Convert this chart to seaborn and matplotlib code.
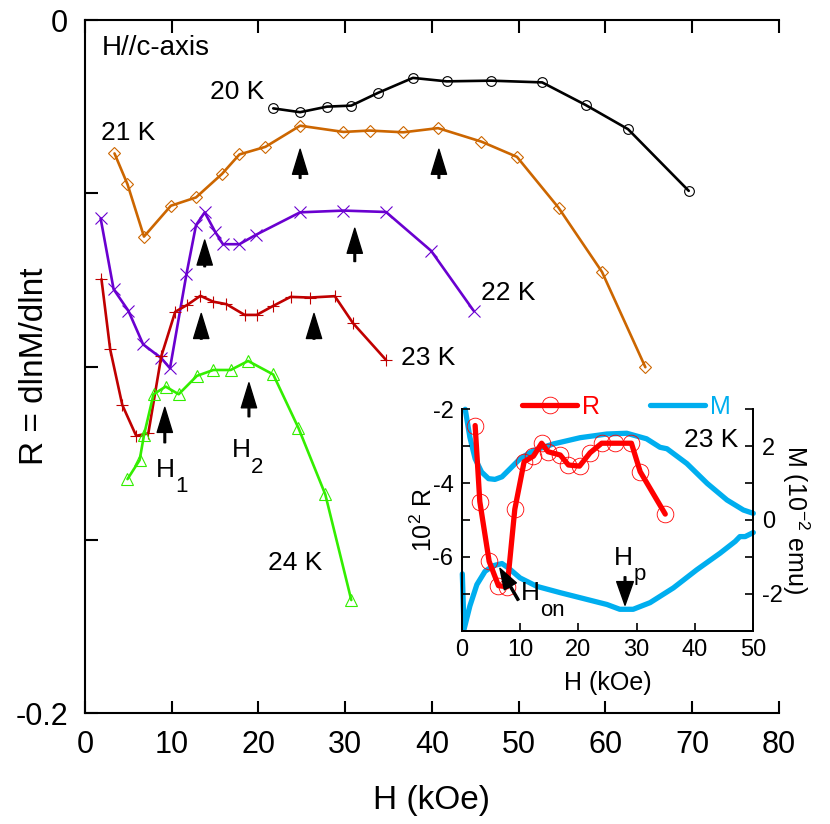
import numpy as np
import pandas as pd
import matplotlib
matplotlib.use("Agg")
import matplotlib.pyplot as plt
import seaborn as sns

# =====================================
# Data
# =====================================
h20 = [21.7, 24.8, 27.9, 30.7, 33.8, 37.8, 41.7, 46.8, 52.7, 57.7, 62.6, 69.6]
r20 = [-0.0255, -0.0266, -0.0250, -0.0247, -0.0210, -0.0167, -0.0177, -0.0175,
       -0.0180, -0.0245, -0.0315, -0.0493]

h21 = [3.4, 4.9, 6.8, 9.9, 12.8, 15.8, 17.8, 20.8, 24.8, 29.8, 32.8, 36.7,
       40.7, 45.7, 49.8, 54.6, 59.6, 64.6]
r21 = [-0.0385, -0.0474, -0.0625, -0.0536, -0.0512, -0.0444, -0.0388, -0.0366,
       -0.0305, -0.0323, -0.0319, -0.0324, -0.0312, -0.0351, -0.0395, -0.0542,
       -0.0727, -0.1002]

h22 = [1.8, 3.3, 5.0, 6.7, 8.8, 9.8, 11.7, 12.8, 13.8, 15.0, 15.9, 17.8, 19.7,
       24.8, 29.8, 34.7, 39.9, 44.8]
r22 = [-0.0572, -0.0777, -0.0839, -0.0936, -0.0976, -0.1005, -0.0733, -0.0592,
       -0.0555, -0.0611, -0.0647, -0.0647, -0.0620, -0.0555, -0.0550, -0.0554,
       -0.0666, -0.0839]

h23 = [1.9, 2.9, 4.3, 5.9, 7.3, 8.8, 10.4, 11.8, 13.3, 14.8, 16.3, 18.4, 19.8,
       21.7, 23.7, 25.9, 28.8, 30.9, 34.7]
r23 = [-0.0748, -0.0950, -0.1111, -0.1200, -0.1193, -0.0970, -0.0842, -0.0822,
       -0.0796, -0.0813, -0.0820, -0.0851, -0.0851, -0.0825, -0.0799, -0.0801,
       -0.0797, -0.0875, -0.0981]

h24 = [4.9, 6.3, 6.8, 7.9, 9.3, 10.8, 12.9, 14.8, 16.8, 18.8, 21.7, 24.6, 27.7, 30.7]
r24 = [-0.1325, -0.1270, -0.1198, -0.1080, -0.1058, -0.1080, -0.1027, -0.1010,
       -0.1010, -0.0984, -0.1023, -0.1177, -0.1369, -0.1674]

# arrows: H position, tip and tail in R
arrow_h = [24.8, 40.8, 13.8, 31.1, 13.4, 26.4, 9.2, 18.9]
arrow_tip = [-0.0373, -0.0373, -0.0635, -0.0601, -0.0847, -0.0847, -0.1118, -0.1047]
arrow_tail = [-0.0457, -0.0457, -0.0712, -0.0697, -0.0921, -0.0921, -0.1220, -0.1145]

# inset: R at 23 K (10^2 R)
inset_h = [2.3, 3.1, 4.7, 6.3, 7.8, 9.1, 10.7, 12.3, 13.7, 14.8, 16.9, 18.3,
           20.2, 22.0, 24.0, 26.3, 29.1, 30.6, 34.9]
inset_r = [-2.44, -4.50, -6.12, -6.78, -6.81, -4.71, -3.42, -3.27, -2.92, -3.15,
           -3.24, -3.51, -3.54, -3.18, -2.92, -2.92, -2.92, -3.69, -4.84]

# inset: M loop (10^-2 emu)
m_up_h = [0.6, 1.4, 2.3, 3.4, 4.6, 5.7, 6.9, 8.3, 10.0, 12.3, 15.7, 20.3, 24.9,
          28.3, 31.7, 34.0, 35.2, 38.6, 42.1, 45.5, 48.3, 50.0]
m_up = [3.0, 2.24, 1.66, 1.30, 1.12, 1.10, 1.17, 1.39, 1.66, 1.88, 2.06, 2.23,
        2.33, 2.35, 2.20, 1.97, 1.93, 1.53, 0.99, 0.54, 0.27, 0.18]
m_dn_h = [0.1, 0.1, 0.4, 1.4, 2.6, 4.0, 5.4, 6.9, 8.0, 10.0, 12.9, 16.9, 21.4,
          24.9, 27.1, 29.4, 32.3, 36.3, 40.3, 44.3, 46.9, 47.7, 48.6, 50.0]
m_dn = [0.05, -2.97, -2.96, -2.33, -1.75, -1.39, -1.24, -1.18, -1.30, -1.57,
        -1.80, -1.97, -2.15, -2.29, -2.42, -2.42, -2.24, -1.84, -1.35, -0.90,
        -0.58, -0.45, -0.45, -0.34]

# =====================================
# Style
# =====================================
sns.set_theme(style="ticks", rc={
    "axes.edgecolor": "black",
    "xtick.color": "black",
    "ytick.color": "black",
    "text.color": "black",
    "axes.labelcolor": "black",
})
plt.rcParams["font.family"] = ["Liberation Sans", "DejaVu Sans"]
plt.rcParams["mathtext.fontset"] = "custom"
plt.rcParams["mathtext.rm"] = "Liberation Sans"
plt.rcParams["mathtext.it"] = "Liberation Sans:italic"
plt.rcParams["mathtext.default"] = "regular"

fig = plt.figure(figsize=(8.3, 8.24), dpi=100)


def sub_label(axis, x, y, main, sub, drop=11, size=19, sub_size=16, dx=14):
    # letter plus a large, low subscript (like the original figure)
    axis.text(x, y, main, fontsize=size, va="baseline")
    axis.annotate(sub, xy=(x, y), xytext=(dx, -drop), textcoords="offset points",
                  fontsize=sub_size, va="baseline")


def arrow(axis, x0, y0, x1, y1, hw=11, hl=17, w=1.2):
    axis.annotate("", xy=(x1, y1), xytext=(x0, y0),
                  arrowprops=dict(facecolor="black", edgecolor="black",
                                  width=w, headwidth=hw, headlength=hl, shrink=0))


# =====================================
# Main panel
# =====================================
ax = fig.add_axes([0.1024, 0.1347, 0.8361, 0.8410])

curves = [
    (h20, r20, "black", "o", 7),
    (h21, r21, "#CC6600", "D", 6),
    (h22, r22, "#6A00D0", "x", 8),
    (h23, r23, "#C00000", "+", 9),
    (h24, r24, "#33EE00", "^", 8),
]
for hx, ry, col, mk, ms in curves:
    sns.lineplot(x=hx, y=ry, ax=ax, sort=False, color=col, linewidth=1.9,
                 marker=mk, markersize=ms, markerfacecolor="none",
                 markeredgecolor=col, markeredgewidth=0.8)

for hx, tip, tail in zip(arrow_h, arrow_tip, arrow_tail):
    arrow(ax, hx, tail, hx, tip, hw=11, hl=18)

ax.set_xlim(0, 80)
ax.set_ylim(-0.2, 0)
ax.set_xticks(np.arange(0, 81, 10))
ax.set_yticks([0, -0.05, -0.1, -0.15, -0.2])
ax.set_yticklabels(["0", "", "", "", "-0.2"])
ax.spines["right"].set_visible(False)
for s in ["left", "bottom", "top"]:
    ax.spines[s].set_linewidth(1.5)
ax.tick_params(direction="in", length=9, width=1.5, top=True, right=False,
               labelsize=22, pad=12)
ax.set_xlabel("H (kOe)", fontsize=24, labelpad=18)
ax.set_ylabel("R = dlnM/dlnt", fontsize=24)
ax.yaxis.set_label_coords(-0.05, 0.5)

ax.text(1.9, -0.0082, "H//c-axis", fontsize=20, va="center")
ax.text(14.4, -0.0207, "20 K", fontsize=19, va="center")
ax.text(1.9, -0.0327, "21 K", fontsize=19, va="center")
ax.text(45.6, -0.0789, "22 K", fontsize=19, va="center")
ax.text(36.4, -0.0976, "23 K", fontsize=19, va="center")
ax.text(21.1, -0.1568, "24 K", fontsize=19, va="center")
sub_label(ax, 8.2, -0.1319, "H", "1", drop=11)
sub_label(ax, 16.9, -0.1260, "H", "2", drop=12)

# =====================================
# Inset: R and M at 23 K
# =====================================
ax_in = fig.add_axes([0.5563, 0.2346, 0.3513, 0.2687])
ax_m = ax_in.twinx()

sns.lineplot(x=m_up_h, y=m_up, ax=ax_m, sort=False, color="#00AEEF",
             linewidth=3.8, clip_on=False)
sns.lineplot(x=m_dn_h, y=m_dn, ax=ax_m, sort=False, color="#00AEEF",
             linewidth=3.8, clip_on=False)
line_m = ax_m.lines[0]

sns.lineplot(x=inset_h, y=inset_r, ax=ax_in, sort=False, color="#FF0000",
             linewidth=3.8, marker="o", markersize=12, markerfacecolor="none",
             markeredgecolor="#FF0000", markeredgewidth=0.6)
line_r = ax_in.lines[0]

ax_in.set_zorder(ax_m.get_zorder() + 1)
ax_in.patch.set_visible(False)

ax_in.set_xlim(0, 50)
ax_in.set_ylim(-8, -2)
ax_m.set_ylim(-3, 3)
ax_in.set_xticks([0, 10, 20, 30, 40, 50])
ax_in.set_yticks(np.arange(-8, -1, 1))
ax_in.set_yticklabels(["" if v % 2 or v == -8 else str(v) for v in range(-8, -1)])
ax_m.set_yticks(np.arange(-3, 4, 1))
ax_m.set_yticklabels([str(v) if v in (-2, 0, 2) else "" for v in range(-3, 4)])
for a in (ax_in, ax_m):
    a.spines["top"].set_visible(False)
    for s in ["left", "bottom", "right"]:
        a.spines[s].set_linewidth(1.3)
ax_in.tick_params(direction="in", length=6, width=1.2, labelsize=17, pad=6)
ax_m.tick_params(direction="in", length=6, width=1.2, labelsize=17, pad=6)
ax_in.set_xlabel("H (kOe)", fontsize=18, labelpad=7)
ax_in.set_ylabel("10$^2$ R", fontsize=18)
ax_in.yaxis.set_label_coords(-0.085, 0.5)
ax_m.set_ylabel("M (10$^{-2}$ emu)", fontsize=18, rotation=270, labelpad=21)

leg = ax_m.legend(handles=[line_r, line_m], labels=["R", "M"], loc="center",
                  bbox_to_anchor=(0.565, 1.012), ncol=2, frameon=False,
                  fontsize=18, handlelength=2.2, columnspacing=2.0,
                  handletextpad=0.2, borderaxespad=0)
for txt, col in zip(leg.get_texts(), ["#FF0000", "#00AEEF"]):
    txt.set_color(col)

ax_in.text(47.4, -2.83, "23 K", fontsize=19, ha="right", va="center")
sub_label(ax_in, 26.1, -6.225, "H", "p", drop=11)
sub_label(ax_in, 10.1, -7.175, "H", "on", drop=11)
arrow(ax_in, 28.0, -6.54, 28.0, -7.31, hw=12, hl=17)
arrow(ax_in, 9.7, -7.17, 6.55, -6.31, hw=10, hl=15, w=1.5)

fig.savefig("out.png", dpi=100)
